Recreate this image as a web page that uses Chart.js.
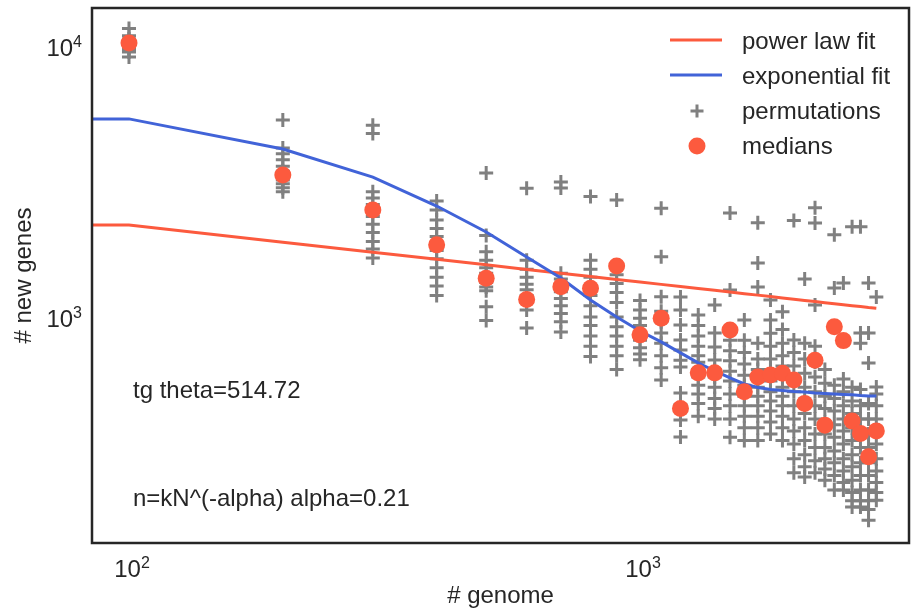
<!doctype html>
<html lang="en">
<head>
<meta charset="UTF-8">
<title>New genes per genome</title>
<style>
  html, body { margin: 0; padding: 0; background: #fff; }
  .wrap { width: 912px; height: 615px; }
</style>
</head>
<body>
<div class="wrap"><canvas id="chart" width="912" height="615"></canvas></div>
<script src="https://cdn.jsdelivr.net/npm/chart.js"></script>
<script>
// ---- data ----
var genomes = [100, 200, 300, 400, 500, 600, 700, 800, 900, 1000,
               1100, 1200, 1300, 1400, 1500, 1600, 1700, 1800, 1900, 2000,
               2100, 2200, 2300, 2400, 2500, 2600, 2700, 2800, 2900];

// one list of permutation values per genome count
var permutations = [
  [11600, 10900, 10600, 10400, 10200, 10000, 9850, 9700, 9500, 9100],
  [5330, 4200, 4000, 3800, 3600, 3450, 3300, 3200, 3100, 3000, 2900],
  [5100, 4750, 2900, 2750, 2600, 2480, 2350, 2200, 2050, 1900, 1780, 1650],
  [2680, 2480, 2280, 2120, 1980, 1870, 1760, 1640, 1520, 1400, 1300, 1200],
  [3400, 2000, 1740, 1620, 1520, 1450, 1390, 1340, 1290, 1250, 1090, 970],
  [2985, 1620, 1500, 1400, 1320, 1260, 1200, 1130, 1060, 910],
  [3150, 2990, 1450, 1380, 1310, 1240, 1170, 1100, 1030, 960, 880],
  [2780, 1620, 1500, 1400, 1300, 1200, 1100, 1000, 930, 850, 780, 715],
  [2700, 1430, 1330, 1230, 1130, 1000, 920, 850, 780, 720, 640],
  [1150, 1060, 990, 930, 870, 820, 770, 730, 695],
  [2516, 1667, 1188, 1050, 960, 873, 800, 720, 650, 585],
  [1185, 1061, 934, 822, 755, 693, 654, 524, 474, 417, 361],
  [1017, 930, 850, 780, 720, 680, 640, 600, 560, 520, 480, 430],
  [1107, 873, 775, 694, 640, 600, 550, 500, 460, 420],
  [2420, 1258, 900, 820, 750, 690, 630, 580, 520, 470, 420, 360],
  [975, 820, 740, 670, 610, 560, 510, 470, 430, 390, 350],
  [2225, 1582, 1290, 800, 700, 640, 590, 550, 510, 470, 430, 390, 350],
  [1155, 975, 870, 780, 700, 640, 580, 530, 490, 450, 410, 370],
  [1046, 900, 800, 720, 660, 600, 550, 510, 470, 430, 390, 350],
  [2270, 822, 740, 660, 590, 530, 470, 420, 380, 340, 300, 266],
  [1380, 800, 700, 620, 550, 490, 440, 390, 350, 310, 280, 257],
  [2530, 2220, 1107, 780, 680, 600, 530, 470, 420, 370, 330, 295, 266],
  [640, 570, 510, 460, 410, 370, 330, 300, 275, 250],
  [2010, 1280, 560, 500, 450, 400, 360, 320, 290, 260, 230],
  [1335, 590, 530, 470, 420, 380, 340, 300, 270, 245, 230],
  [2150, 550, 490, 440, 390, 350, 310, 280, 250, 225, 210, 199],
  [2150, 873, 800, 540, 470, 420, 370, 330, 290, 260, 230, 210, 199],
  [1335, 873, 677, 480, 420, 370, 330, 290, 260, 230, 210, 195, 178],
  [1185, 552, 520, 470, 420, 380, 340, 300, 270, 245, 225, 211]
];

var medians = [10250, 3340, 2480, 1845, 1390, 1160, 1294, 1276, 1542, 859,
               989, 460, 622, 622, 895, 530, 601, 611, 620, 586,
               480, 693, 399, 920, 818, 413, 372, 305, 380];

// the fit curves start left of the axis (flat piece before 10^2)
var fitN = [50, 100, 200, 300, 400, 500, 600, 700, 800, 900, 1000,
            1100, 1200, 1300, 1400, 1500, 1600, 1700, 1800, 1900, 2000,
            2100, 2200, 2300, 2400, 2500, 2600, 2700, 2800, 2900];
var powerFit = [2183, 2183, 1887, 1733, 1632, 1557, 1498, 1451, 1411, 1376, 1346,
                1319, 1295, 1274, 1254, 1236, 1219, 1204, 1189, 1176, 1163,
                1151, 1140, 1129, 1119, 1109, 1100, 1092, 1083, 1076];
var expFit = [5380, 5380, 4165, 3281, 2566, 2059, 1664, 1393, 1155, 1000, 888,
              809, 737, 677, 632, 596, 566, 549, 540, 536, 531,
              529, 524, 522, 520, 518, 516, 513, 511, 511];

var xTicks = [100, 1000];
var yTicks = [1000, 10000];
var legendLabels = ['power law fit', 'exponential fit', 'permutations', 'medians'];
var notes = ['tg theta=514.72', 'n=kN^(-alpha) alpha=0.21'];

// ---- styling ----
var FONT = '"Liberation Sans", Arial, sans-serif';
var TEXT = '#262626';
var RED = '#fc5a3e';
var BLUE = '#4163d8';
var GRAY = '#808080';

var permPoints = [];
genomes.forEach(function (n, i) {
  permutations[i].forEach(function (v) { permPoints.push({ x: n, y: v }); });
});
var medianPoints = genomes.map(function (n, i) { return { x: n, y: medians[i] }; });
var powerPoints = fitN.map(function (n, i) { return { x: n, y: powerFit[i] }; });
var expPoints = fitN.map(function (n, i) { return { x: n, y: expFit[i] }; });

// draws "10" with a raised exponent; align: 'center' or 'right'
function drawPow(ctx, value, x, base, align) {
  var e = String(Math.round(Math.log10(value)));
  ctx.font = '24px ' + FONT;
  var wBase = ctx.measureText('10').width;
  ctx.font = '16px ' + FONT;
  var wExp = ctx.measureText(e).width;
  var left = align === 'right' ? x - wBase - wExp : x - (wBase + wExp) / 2;
  ctx.textAlign = 'left';
  ctx.textBaseline = 'alphabetic';
  ctx.font = '24px ' + FONT;
  ctx.fillText('10', left, base);
  ctx.font = '16px ' + FONT;
  ctx.fillText(e, left + wBase, base - 9);
}

// frame, tick labels, text notes and legend
var extras = {
  id: 'extras',
  afterDraw: function (chart) {
    var ctx = chart.ctx, a = chart.chartArea;
    var xs = chart.scales.x, ys = chart.scales.y;
    ctx.save();
    ctx.strokeStyle = TEXT;
    ctx.lineWidth = 2.5;
    ctx.strokeRect(a.left, a.top, a.right - a.left, a.bottom - a.top);

    ctx.fillStyle = TEXT;
    xs.ticks.forEach(function (t) {
      drawPow(ctx, t.value, xs.getPixelForValue(t.value) + 3, a.bottom + 34, 'center');
    });
    ys.ticks.forEach(function (t) {
      drawPow(ctx, t.value, a.left - 10, ys.getPixelForValue(t.value) + 10, 'right');
    });

    ctx.font = '24px ' + FONT;
    ctx.textBaseline = 'middle';
    ctx.textAlign = 'left';
    ctx.fillText(notes[0], a.left + 41, 391);
    ctx.fillText(notes[1], a.left + 41, 499);

    // legend
    var rows = [41, 76, 111, 146];
    ctx.lineWidth = 3;
    ctx.strokeStyle = RED;
    ctx.beginPath(); ctx.moveTo(670, rows[0] - 1); ctx.lineTo(722, rows[0] - 1); ctx.stroke();
    ctx.strokeStyle = BLUE;
    ctx.beginPath(); ctx.moveTo(670, rows[1] - 1); ctx.lineTo(722, rows[1] - 1); ctx.stroke();
    ctx.strokeStyle = GRAY;
    Chart.helpers.drawPoint(ctx, { pointStyle: 'cross', radius: 6.5, borderWidth: 3 }, 697, rows[2]);
    ctx.fillStyle = RED;
    ctx.beginPath(); ctx.arc(697, rows[3], 8.5, 0, Math.PI * 2); ctx.fill();

    ctx.fillStyle = TEXT;
    legendLabels.forEach(function (t, i) { ctx.fillText(t, 742, rows[i] + 1); });
    ctx.restore();
  }
};

new Chart(document.getElementById('chart'), {
  type: 'scatter',
  data: {
    datasets: [
      { label: legendLabels[3], data: medianPoints, order: 1,
        pointStyle: 'circle', pointRadius: 8.5, borderWidth: 0, backgroundColor: RED },
      { label: legendLabels[1], data: expPoints, order: 2, showLine: true, clip: 0,
        borderColor: BLUE, borderWidth: 3, pointRadius: 0, tension: 0 },
      { label: legendLabels[0], data: powerPoints, order: 3, showLine: true, clip: 0,
        borderColor: RED, borderWidth: 3, pointRadius: 0, tension: 0 },
      { label: legendLabels[2], data: permPoints, order: 4,
        pointStyle: 'cross', pointRadius: 7, borderWidth: 3, borderColor: GRAY }
    ]
  },
  options: {
    responsive: false,
    animation: false,
    events: [],
    layout: { autoPadding: false, padding: { top: 8, right: 3, left: 0, bottom: 0 } },
    plugins: { legend: { display: false }, tooltip: { enabled: false } },
    scales: {
      x: {
        type: 'logarithmic',
        min: 84.65,
        max: 3360,
        grid: { display: false, drawTicks: false },
        border: { display: false },
        afterBuildTicks: function (s) { s.ticks = xTicks.map(function (v) { return { value: v }; }); },
        afterFit: function (s) { s.height = 72; s.paddingLeft = 0; s.paddingRight = 0; },
        ticks: { display: false },
        title: { display: true, text: '# genome', color: TEXT,
                 font: { family: FONT, size: 24 }, padding: { top: 0, bottom: 4 } }
      },
      y: {
        type: 'logarithmic',
        min: 146.6,
        max: 13800,
        grid: { display: false, drawTicks: false },
        border: { display: false },
        afterBuildTicks: function (s) { s.ticks = yTicks.map(function (v) { return { value: v }; }); },
        afterFit: function (s) { s.width = 92; s.paddingTop = 0; s.paddingBottom = 0; },
        ticks: { display: false },
        title: { display: true, text: '# new genes', color: TEXT,
                 font: { family: FONT, size: 24 }, padding: { top: 10, bottom: 0 } }
      }
    }
  },
  plugins: [extras]
});
</script>
</body>
</html>
